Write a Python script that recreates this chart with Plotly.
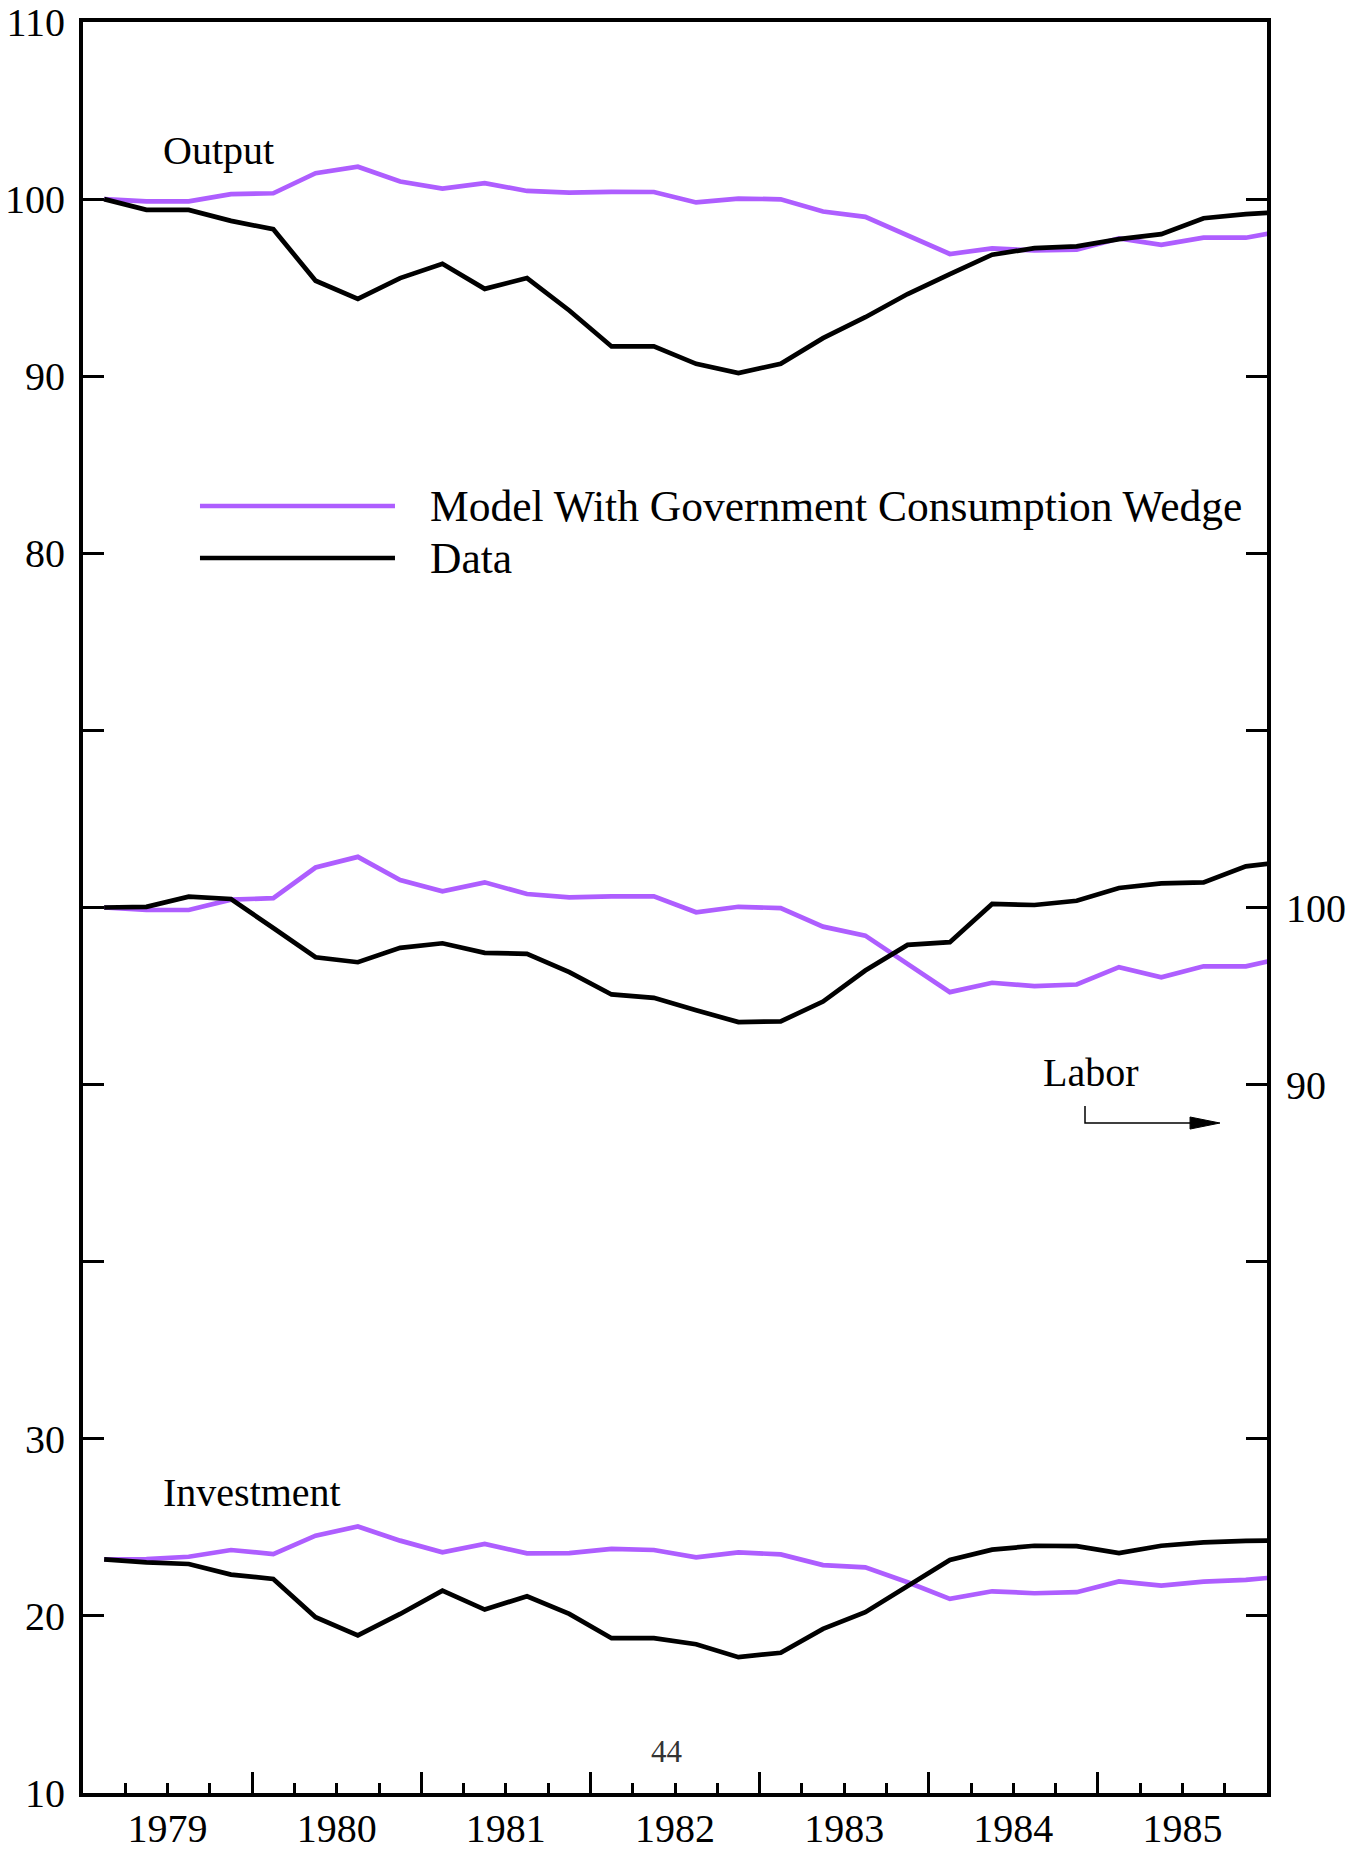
import plotly.graph_objects as go

# ---------------- data ----------------
quarters = ["1979Q1", "1979Q2", "1979Q3", "1979Q4",
            "1980Q1", "1980Q2", "1980Q3", "1980Q4",
            "1981Q1", "1981Q2", "1981Q3", "1981Q4",
            "1982Q1", "1982Q2", "1982Q3", "1982Q4",
            "1983Q1", "1983Q2", "1983Q3", "1983Q4",
            "1984Q1", "1984Q2", "1984Q3", "1984Q4",
            "1985Q1", "1985Q2", "1985Q3", "1985Q4",
            "1986Q1"]

output_model = [100.0, 99.87, 99.87, 100.28, 100.33, 101.46, 101.83, 100.99, 100.59, 100.90,
                100.46, 100.37, 100.41, 100.40, 99.81, 100.03, 99.99, 99.30, 99.00, 97.93,
                96.90, 97.22, 97.10, 97.14, 97.78, 97.42, 97.82, 97.82, 98.25]
output_data = [100.0, 99.39, 99.39, 98.77, 98.30, 95.39, 94.36, 95.54, 96.35, 94.93,
               95.54, 93.71, 91.68, 91.68, 90.70, 90.18, 90.70, 92.15, 93.33, 94.64,
               95.77, 96.86, 97.23, 97.33, 97.74, 98.02, 98.92, 99.15, 99.30]

labor_model = [100.0, 99.86, 99.86, 100.44, 100.53, 102.26, 102.86, 101.55, 100.91, 101.42,
               100.76, 100.57, 100.63, 100.63, 99.73, 100.04, 99.97, 98.92, 98.41, 96.78,
               95.22, 95.75, 95.56, 95.65, 96.63, 96.06, 96.68, 96.68, 97.20]
labor_data = [100.0, 100.04, 100.61, 100.48, 98.84, 97.19, 96.91, 97.72, 97.98, 97.44,
              97.38, 96.35, 95.09, 94.90, 94.20, 93.53, 93.57, 94.69, 96.44, 97.89,
              98.04, 100.20, 100.14, 100.38, 101.10, 101.36, 101.42, 102.32, 102.60]

invest_model = [23.19, 23.21, 23.34, 23.72, 23.49, 24.53, 25.05, 24.25, 23.59, 24.06,
                23.53, 23.55, 23.78, 23.72, 23.31, 23.59, 23.47, 22.87, 22.74, 21.90,
                20.96, 21.39, 21.28, 21.34, 21.95, 21.71, 21.94, 22.03, 22.25]
invest_data = [23.19, 23.02, 22.93, 22.33, 22.09, 19.93, 18.90, 20.11, 21.43, 20.36,
               21.11, 20.11, 18.74, 18.74, 18.40, 17.67, 17.92, 19.27, 20.21, 21.71,
               23.16, 23.74, 23.96, 23.94, 23.55, 23.96, 24.15, 24.24, 24.25]

year_labels = ["1979", "1980", "1981", "1982", "1983", "1984", "1985"]
left_ticks = [10, 20, 30, 40, 50, 60, 70, 80, 90, 100, 110]
left_tick_text = ["10", "20", "30", "", "", "", "", "80", "90", "100", "110"]
right_ticks = [90, 100]

series_names = ["Model With Government Consumption Wedge", "Data"]
panel_labels = ["Output", "Labor", "Investment"]

# ---------------- styles ----------------
PURPLE = "#AE5EFF"
BLACK = "#000000"
FONT = "Liberation Serif"
LW = 4.7
TICK_FONT = 40


def qpos(q):
    """mid-quarter position on a numeric year axis"""
    y, n = q.split("Q")
    return int(y) + (int(n) - 1) / 4 + 1 / 8


x = [qpos(q) for q in quarters]

fig = go.Figure()

# model series (drawn first, under the data)
fig.add_trace(go.Scatter(x=x, y=output_model, mode="lines", name=series_names[0],
                         line=dict(color=PURPLE, width=LW), showlegend=False))
fig.add_trace(go.Scatter(x=x, y=invest_model, mode="lines", name=series_names[0],
                         line=dict(color=PURPLE, width=LW), showlegend=False))
fig.add_trace(go.Scatter(x=x, y=labor_model, mode="lines", name=series_names[0],
                         line=dict(color=PURPLE, width=LW), showlegend=False,
                         xaxis="x2", yaxis="y2"))
# data series
fig.add_trace(go.Scatter(x=x, y=output_data, mode="lines", name=series_names[1],
                         line=dict(color=BLACK, width=LW), showlegend=False))
fig.add_trace(go.Scatter(x=x, y=invest_data, mode="lines", name=series_names[1],
                         line=dict(color=BLACK, width=LW), showlegend=False))
fig.add_trace(go.Scatter(x=x, y=labor_data, mode="lines", name=series_names[1],
                         line=dict(color=BLACK, width=LW), showlegend=False,
                         xaxis="x2", yaxis="y2"))

year_starts = [int(v) for v in year_labels[1:]]
year_mids = [int(v) + 0.5 for v in year_labels]

fig.update_layout(
    width=1366, height=1851,
    margin=dict(l=83, r=99, t=22, b=58, autoexpand=False),
    paper_bgcolor="white", plot_bgcolor="white",
    font=dict(family=FONT, size=TICK_FONT, color="black"),
    showlegend=False,
    xaxis=dict(range=[1979, 1986], showgrid=False, zeroline=False, automargin=False,
               showline=True, linewidth=4, linecolor="black", mirror=True,
               tickmode="array", tickvals=year_starts, showticklabels=False,
               ticks="inside", ticklen=21, tickwidth=3, tickcolor="black",
               minor=dict(tickmode="linear", tick0=1979, dtick=0.25, ticks="inside",
                          ticklen=10, tickwidth=3, tickcolor="black", showgrid=False)),
    xaxis2=dict(range=[1979, 1986], overlaying="x", anchor="y", side="bottom",
                showgrid=False, zeroline=False, showline=False, ticks="", automargin=False,
                tickmode="array", tickvals=year_mids, ticktext=year_labels,
                tickfont=dict(family=FONT, size=TICK_FONT), ticklabelstandoff=8),
    yaxis=dict(range=[10, 110], showgrid=False, zeroline=False, automargin=False,
               showline=True, linewidth=4, linecolor="black", mirror="ticks",
               tickmode="array", tickvals=left_ticks, ticktext=left_tick_text,
               ticks="inside", ticklen=21, tickwidth=3, tickcolor="black",
               tickfont=dict(family=FONT, size=TICK_FONT), ticklabelstandoff=6),
    yaxis2=dict(range=[50, 150], overlaying="y", anchor="x2", side="right",
                showgrid=False, zeroline=False, showline=False, ticks="", automargin=False,
                tickmode="array", tickvals=right_ticks,
                tickfont=dict(family=FONT, size=TICK_FONT), ticklabelstandoff=18),
)

# panel labels
fig.add_annotation(x=1979.459, y=102.77, xref="x", yref="y", text=panel_labels[0],
                   showarrow=False, xanchor="left", yanchor="middle",
                   font=dict(family=FONT, size=40))
fig.add_annotation(x=1979.459, y=26.94, xref="x", yref="y", text=panel_labels[2],
                   showarrow=False, xanchor="left", yanchor="middle",
                   font=dict(family=FONT, size=40))
fig.add_annotation(x=1984.962, y=50.66, xref="x", yref="y", text=panel_labels[1],
                   showarrow=False, xanchor="center", yanchor="middle",
                   font=dict(family=FONT, size=40))

# Labor arrow (points to right-hand axis)
fig.add_shape(type="path", xref="x", yref="y",
              path="M 1984.924,48.79 L 1984.924,47.83 L 1985.56,47.83",
              line=dict(color="black", width=1.5))
fig.add_shape(type="path", xref="x", yref="y",
              path="M 1985.545,48.17 L 1985.722,47.83 L 1985.545,47.49 Z",
              fillcolor="black", line=dict(color="black", width=1))

# page number
fig.add_annotation(x=1982.451, y=12.32, xref="x", yref="y", text="44",
                   showarrow=False, xanchor="center", yanchor="middle",
                   font=dict(family=FONT, size=31, color="#333333"))

# custom legend with long line samples
legend_rows = [(series_names[0], PURPLE, 0.7267), (series_names[1], BLACK, 0.6973)]
for name, color, yp in legend_rows:
    fig.add_shape(type="line", xref="paper", yref="paper",
                  x0=0.0988, x1=0.2635, y0=yp, y1=yp,
                  line=dict(color=color, width=4.5))
    fig.add_annotation(x=0.2914, y=yp, xref="paper", yref="paper", text=name,
                       showarrow=False, xanchor="left", yanchor="middle",
                       font=dict(family=FONT, size=43.5))

fig.write_html("out.html", config={"displayModeBar": False},
               post_script="document.body.style.margin='0';")
